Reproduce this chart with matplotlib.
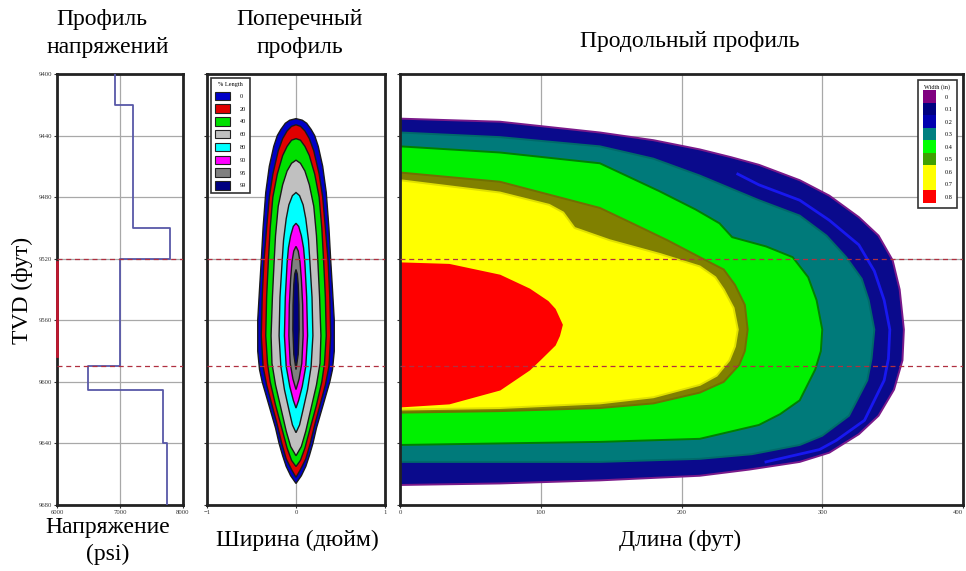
import numpy as np
import matplotlib.pyplot as plt
from matplotlib.patches import Patch

plt.rcParams['font.family'] = ['Liberation Serif', 'DejaVu Serif']

# depth scale shared by all three panels (TVD, ft)
tvd_ticks = [9400, 9440, 9480, 9520, 9560, 9600, 9640, 9680]
zone_top, zone_bottom = 9520, 9590
perf_top, perf_bottom = 9522, 9583

# stress profile: layer boundaries and stress in each layer
layer_bounds = [9400, 9420, 9500, 9520, 9590, 9605, 9640, 9680]
layer_psi = [6920, 7200, 7790, 7000, 6490, 7680, 7740]
stress_ticks = [6000, 7000, 8000]

# cross-section: half-width (in) vs depth for each % of fracture length
pct_levels = [0, 20, 40, 60, 80, 90, 95, 99]
pct_colors = ['#0000c8', '#e00000', '#00e000', '#c0c0c0',
              '#00ffff', '#ff00ff', '#808080', '#000080']
xs_depth = [
    [9429, 9430, 9432, 9436, 9440, 9447, 9460, 9477, 9500, 9521, 9540, 9560,
     9580, 9592, 9600, 9610, 9620, 9630, 9640, 9648, 9655, 9661, 9666],
    [9433, 9434, 9437, 9442, 9450, 9465, 9480, 9500, 9521, 9545, 9570, 9590,
     9602, 9615, 9628, 9640, 9650, 9657, 9662],
    [9442, 9443, 9447, 9453, 9465, 9480, 9500, 9521, 9545, 9570, 9588, 9600,
     9615, 9630, 9643, 9651, 9655],
    [9456, 9458, 9463, 9472, 9486, 9505, 9521, 9545, 9570, 9588, 9602, 9617,
     9632, 9642, 9648],
    [9477, 9479, 9485, 9494, 9508, 9521, 9545, 9570, 9590, 9605, 9618, 9628,
     9633],
    [9497, 9499, 9505, 9513, 9523, 9545, 9570, 9590, 9603, 9612, 9617],
    [9512, 9515, 9522, 9533, 9550, 9570, 9588, 9598, 9605],
    [9527, 9530, 9537, 9550, 9566, 9582, 9592],
]
xs_half = [
    [0, 0.07, 0.12, 0.17, 0.21, 0.25, 0.30, 0.34, 0.37, 0.39, 0.41, 0.43,
     0.43, 0.41, 0.38, 0.33, 0.28, 0.23, 0.19, 0.15, 0.11, 0.06, 0],
    [0, 0.05, 0.10, 0.15, 0.20, 0.26, 0.30, 0.33, 0.36, 0.38, 0.39, 0.37,
     0.33, 0.27, 0.21, 0.16, 0.11, 0.05, 0],
    [0, 0.05, 0.10, 0.15, 0.21, 0.26, 0.29, 0.31, 0.33, 0.34, 0.32, 0.29,
     0.23, 0.16, 0.10, 0.05, 0],
    [0, 0.05, 0.10, 0.15, 0.20, 0.23, 0.245, 0.265, 0.28, 0.27, 0.23, 0.17,
     0.11, 0.06, 0],
    [0, 0.04, 0.08, 0.11, 0.14, 0.155, 0.18, 0.19, 0.17, 0.13, 0.08, 0.04, 0],
    [0, 0.03, 0.06, 0.085, 0.10, 0.12, 0.13, 0.11, 0.07, 0.03, 0],
    [0, 0.025, 0.045, 0.06, 0.075, 0.08, 0.065, 0.035, 0],
    [0, 0.015, 0.025, 0.033, 0.035, 0.025, 0],
]

# long section: width contours, length (ft) along the outline vs depth
ls_len = [
    [0, 71, 142, 180, 213, 235, 255, 284, 305, 326, 340, 350, 355, 358, 357,
     351, 340, 326, 305, 284, 248, 213, 142, 71, 0],
    [0, 71, 142, 180, 213, 255, 284, 303, 317, 328, 333, 337, 335, 332, 319,
     300, 284, 250, 213, 142, 0],
    [0, 71, 142, 184, 210, 227, 236, 260, 279, 290, 296, 300, 299, 295, 284,
     270, 255, 213, 142, 0],
    [0, 71, 142, 165, 190, 213, 230, 238, 245, 247, 245, 241, 230, 213, 180,
     142, 71, 0],
    [0, 71, 106, 116, 124, 149, 185, 213, 224, 230, 237, 240, 238, 234, 225,
     213, 180, 142, 71, 0],
    [0, 35, 71, 92, 105, 110, 115, 113, 110, 100, 92, 71, 35, 0],
]
ls_tvd = [
    [9429, 9431, 9438, 9443, 9449, 9454, 9459, 9469, 9479, 9493, 9505, 9521,
     9540, 9566, 9586, 9605, 9622, 9634, 9646, 9652, 9657, 9661, 9664, 9666,
     9667],
    [9438, 9441, 9447, 9455, 9466, 9482, 9492, 9505, 9519, 9533, 9547, 9566,
     9585, 9599, 9622, 9635, 9641, 9647, 9650, 9652, 9652],
    [9447, 9451, 9458, 9476, 9488, 9497, 9506, 9512, 9519, 9532, 9547, 9566,
     9580, 9592, 9612, 9621, 9628, 9637, 9639, 9641],
    [9464, 9470, 9487, 9497, 9508, 9519, 9527, 9537, 9550, 9566, 9580, 9589,
     9600, 9607, 9614, 9617, 9619, 9620],
    [9469, 9477, 9485, 9490, 9500, 9508, 9517, 9525, 9532, 9540, 9552, 9566,
     9577, 9586, 9596, 9602, 9610, 9614, 9617, 9618],
    [9523, 9524, 9531, 9540, 9548, 9553, 9563, 9570, 9576, 9585, 9592, 9605,
     9614, 9616],
]
ls_fill = ['#0a0a8c', '#007a7a', '#00f000', '#808000', '#ffff00', '#ff0000']
ls_edge = ['#7a1a8a', '#006a6a', '#008000', '#707000', '#e0e000', '#ff0000']

# 0.2 in contour drawn as a line inside the outer band
line02_len = [240, 255, 284, 305, 326, 337, 344, 348, 347, 344, 330, 310, 298, 260]
line02_tvd = [9465, 9472, 9482, 9495, 9511, 9528, 9547, 9566, 9585, 9599, 9625, 9638, 9644, 9652]

width_labels = ['0', '0.1', '0.2', '0.3', '0.4', '0.5', '0.6', '0.7', '0.8']
width_colors = ['#800080', '#000080', '#0000b0', '#008080', '#00ff00',
                '#40a000', '#ffff00', '#ffff00', '#ff0000']

W, H = 966, 571
fig = plt.figure(figsize=(W / 100, H / 100), dpi=100)


def box(x0, x1, y0, y1):
    return [x0 / W, 1 - y1 / H, (x1 - x0) / W, (y1 - y0) / H]


ax1 = fig.add_axes(box(57, 183, 74, 505))
ax2 = fig.add_axes(box(207, 385, 74, 505))
ax3 = fig.add_axes(box(400, 963, 74, 505))

for ax in (ax1, ax2, ax3):
    ax.set_ylim(9680, 9400)
    ax.set_yticks(tvd_ticks)
    ax.grid(True, color='#a8a8a8', lw=0.9)
    ax.set_axisbelow(True)
    ax.tick_params(labelsize=4.8, length=2, pad=1.5, colors='#333333')
    for s in ax.spines.values():
        s.set_linewidth(2)
        s.set_color('#222222')
    for z in (zone_top, zone_bottom):
        ax.axhline(z, color='#b03040', lw=0.9, ls=(0, (4, 3)), zorder=5)
ax2.set_yticklabels([])
ax3.set_yticklabels([])

# stress profile
bounds = np.array(layer_bounds)
depth_v = np.repeat(bounds, 2)[1:-1]
psi_v = np.repeat(layer_psi, 2)
ax1.plot(psi_v, depth_v, color='#5858a8', lw=1.3, zorder=3)
ax1.plot([6000, 6000], [perf_top, perf_bottom], color='#c01830', lw=2,
         zorder=4, clip_on=False)
ax1.set_xlim(6000, 8000)
ax1.set_xticks(stress_ticks)

# cross-section
for lev, col, d, w in zip(pct_levels, pct_colors, xs_depth, xs_half):
    d = np.array(d)
    w = np.array(w)
    ax2.fill(np.r_[w, -w[::-1]], np.r_[d, d[::-1]], facecolor=col,
             edgecolor='#1a1a1a', lw=1.0, zorder=2)
ax2.set_xlim(-1, 1)
ax2.set_xticks([-1, 0, 1])
handles = [Patch(facecolor=c, edgecolor='#222222', lw=0.8) for c in pct_colors]
lg = ax2.legend(handles, [str(p) for p in pct_levels], title='% Length',
                loc='upper left', fontsize=4.5, title_fontsize=4.5,
                handlelength=2.4, handleheight=1.7, labelspacing=0.7,
                handletextpad=1.6, borderpad=0.6, borderaxespad=0.7,
                fancybox=False, edgecolor='#333333', framealpha=1)
lg.get_frame().set_linewidth(1.2)

# long section
for L, d, fc, ec in zip(ls_len, ls_tvd, ls_fill, ls_edge):
    ax3.fill(L, d, facecolor=fc, edgecolor=ec, lw=1.4, zorder=2)
ax3.plot(line02_len, line02_tvd, color='#1818f0', lw=2, zorder=3)
ax3.set_xlim(0, 400)
ax3.set_xticks([0, 100, 200, 300, 400])
ax3.get_xticklabels()[-1].set_horizontalalignment('right')
handles = [Patch(facecolor=c, edgecolor='none') for c in width_colors]
lg = ax3.legend(handles, width_labels, title='Width (in)', loc='upper right',
                fontsize=4.5, title_fontsize=4.5, handlelength=2.2,
                handleheight=2.7, labelspacing=0.0, handletextpad=1.3,
                borderpad=0.8, borderaxespad=0.9, fancybox=False,
                edgecolor='#333333', framealpha=1)
lg.get_frame().set_linewidth(1.2)

# titles and axis captions
ts = 17
fig.text(102 / W, 1 - 20 / H, 'Профиль', ha='center', va='center', fontsize=ts)
fig.text(108 / W, 1 - 48 / H, 'напряжений', ha='center', va='center', fontsize=ts)
fig.text(300 / W, 1 - 20 / H, 'Поперечный', ha='center', va='center', fontsize=ts)
fig.text(300 / W, 1 - 48 / H, 'профиль', ha='center', va='center', fontsize=ts)
fig.text(690 / W, 1 - 42 / H, 'Продольный профиль', ha='center', va='center', fontsize=ts)
fig.text(22 / W, 1 - 290 / H, 'TVD (фут)', ha='center', va='center',
         rotation=90, fontsize=ts)
fig.text(108 / W, 1 - 528 / H, 'Напряжение', ha='center', va='center', fontsize=ts)
fig.text(108 / W, 1 - 554 / H, '(psi)', ha='center', va='center', fontsize=ts)
fig.text(297 / W, 1 - 540 / H, 'Ширина (дюйм)', ha='center', va='center', fontsize=ts)
fig.text(680 / W, 1 - 540 / H, 'Длина (фут)', ha='center', va='center', fontsize=ts)

fig.savefig('out.png', dpi=100)
